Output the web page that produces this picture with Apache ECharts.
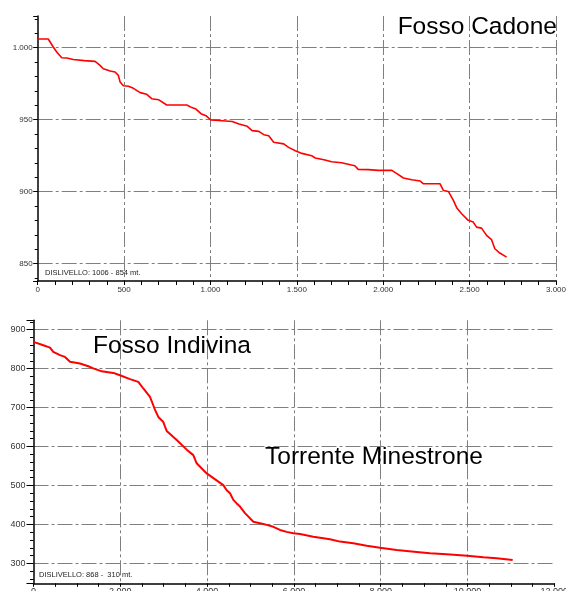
<!DOCTYPE html>
<html>
<head>
<meta charset="utf-8">
<script src="https://cdn.jsdelivr.net/npm/echarts@6/dist/echarts.min.js"></script>
<style>
html,body{margin:0;padding:0;background:#fff;}
#chart{width:566px;height:591px;}
</style>
</head>
<body>
<div id="chart"></div>
<script>
// Fosso Cadone profile (distance m, elevation m)
const cadoneDist = [0,61,71,90,110,139,168,206,270,332,361,380,419,448,467,477,496,525,554,593,631,660,699,747,863,892,916,945,974,1002,1069,1126,1165,1213,1241,1280,1309,1337,1366,1424,1452,1491,1529,1586,1606,1663,1701,1759,1816,1836,1855,1915,1970,2050,2079,2117,2165,2214,2233,2329,2348,2377,2406,2425,2454,2492,2521,2540,2569,2598,2627,2646,2675,2714];
const cadoneElev = [1006,1006,1005,1000.5,997,993,992.8,991.8,991,990.5,987.7,985.4,983.8,983.1,980.8,976.2,973.6,973.2,971.8,968.8,967.6,964.6,963.9,960.2,960.2,958.4,957.4,954.2,952.8,949.8,949.3,948.8,947,945.4,942.4,941.9,939.6,938.9,934.3,933.2,930.8,928.5,926.6,925,923.4,922,920.8,920.1,918.5,918,915.5,915.3,914.8,914.8,912.5,909.5,908.3,907.4,905.5,905.5,900.9,900.2,894,888.9,884.7,880.1,878.9,875.4,874.7,869.7,866.7,860.4,857.4,854.6];

// Fosso Indivina / Torrente Minestrone profile
const indivinaDist = [0,226,380,456,611,726,841,1071,1263,1378,1571,1839,1993,2224,2415,2530,2684,2760,2800,2876,2915,2991,3030,3069,3300,3530,3682,3760,3991,4259,4374,4451,4528,4604,4682,4758,4873,4912,5065,5104,5295,5373,5525,5680,5834,5986,6141,6447,6832,7062,7369,7677,7984,8368,8829,9136,9521,9995,10364,10673,11041];
const indivinaElev = [868.7,860,854,843,834.6,830,817.5,813,806,800.5,793,789,783,773,766,749,727.7,706,694,676,672,663,651,640,617,592,578,557,531,510,501,488,480,463,454,446,429,424,407,405,401,399,394,386,381,377.4,375.6,368.7,362,356,351.8,345.6,340.5,334.6,329.5,326,323.6,320,316,313.3,309];

const titleTop = 'Fosso Cadone';
const titleBottom1 = 'Fosso Indivina';
const titleBottom2 = 'Torrente Minestrone';
const noteTop = 'DISLIVELLO: 1006 - 854 mt.';
const noteBottom = 'DISLIVELLO: 868 -  310 mt.';

function zip(a, b) { return a.map((v, i) => [v, b[i]]); }
function fmt(v) { return String(v).replace(/\B(?=(\d{3})+(?!\d))/g, '.'); }

const FONT = '"Liberation Sans", Arial, sans-serif';
const gridLine = { show: true, lineStyle: { color: '#7f7f7f', width: 1, type: [15, 3, 3, 3] } };

const chart = echarts.init(document.getElementById('chart'), null, { renderer: 'canvas' });
chart.setOption({
  animation: false,
  backgroundColor: '#fff',
  grid: [
    { left: 37.7, top: 16, width: 518.3, height: 265, containLabel: false, outerBoundsMode: 'none' },
    { left: 33.5, top: 320.3, width: 520.8, height: 263, containLabel: false, outerBoundsMode: 'none' }
  ],
  xAxis: [
    {
      gridIndex: 0, type: 'value', min: 0, max: 3000, interval: 500,
      axisLine: { show: true, onZero: false, lineStyle: { color: '#000', width: 1.5 } },
      axisTick: { show: true, inside: false, length: 4, lineStyle: { color: '#000' } },
      minorTick: { show: true, splitNumber: 5, length: 4, lineStyle: { color: '#000' } },
      axisLabel: { show: true, formatter: fmt, fontSize: 8, color: '#333', fontFamily: FONT, margin: 5, interval: 0 },
      splitLine: Object.assign({ showMinLine: false, showMaxLine: true }, gridLine)
    },
    {
      gridIndex: 1, type: 'value', min: 0, max: 12000, interval: 2000,
      axisLine: { show: true, onZero: false, lineStyle: { color: '#000', width: 1.5 } },
      axisTick: { show: true, inside: false, length: 3.5, lineStyle: { color: '#000' } },
      minorTick: { show: true, splitNumber: 4, length: 3.5, lineStyle: { color: '#000' } },
      axisLabel: { show: true, formatter: fmt, fontSize: 9, color: '#333', fontFamily: FONT, margin: 4, interval: 0 },
      splitLine: Object.assign({ showMinLine: false, showMaxLine: false }, gridLine)
    }
  ],
  yAxis: [
    {
      gridIndex: 0, type: 'value', min: 838, max: 1022, splitNumber: 4,
      axisLine: { show: true, onZero: false, lineStyle: { color: '#000', width: 1.5 } },
      axisTick: { show: true, inside: false, length: 4.5, lineStyle: { color: '#000' } },
      minorTick: { show: true, splitNumber: 5, length: 3, lineStyle: { color: '#000' } },
      axisLabel: { show: true, formatter: fmt, fontSize: 8, color: '#333', fontFamily: FONT, margin: 5, showMinLabel: false, showMaxLabel: false },
      splitLine: Object.assign({ showMinLine: false, showMaxLine: false }, gridLine)
    },
    {
      gridIndex: 1, type: 'value', min: 249, max: 924, splitNumber: 6,
      axisLine: { show: true, onZero: false, lineStyle: { color: '#000', width: 1.5 } },
      axisTick: { show: true, inside: false, length: 7, lineStyle: { color: '#000' } },
      minorTick: { show: true, splitNumber: 5, length: 3.5, lineStyle: { color: '#000' } },
      axisLabel: { show: true, formatter: fmt, fontSize: 9, color: '#333', fontFamily: FONT, margin: 8, showMinLabel: false, showMaxLabel: false },
      splitLine: Object.assign({ showMinLine: false, showMaxLine: false }, gridLine)
    }
  ],
  series: [
    {
      type: 'line', xAxisIndex: 0, yAxisIndex: 0, data: zip(cadoneDist, cadoneElev),
      showSymbol: false, symbol: 'none', smooth: false,
      lineStyle: { color: '#ff0000', width: 1.6 }
    },
    {
      type: 'line', xAxisIndex: 1, yAxisIndex: 1, data: zip(indivinaDist, indivinaElev),
      showSymbol: false, symbol: 'none', smooth: false,
      lineStyle: { color: '#ff0000', width: 2 }
    }
  ],
  graphic: [
    { type: 'text', z: 100, style: { text: titleTop, x: 557, y: 27, align: 'right', verticalAlign: 'middle', font: '24.5px ' + FONT, fill: '#000' } },
    { type: 'text', z: 100, style: { text: titleBottom1, x: 93, y: 346.5, align: 'left', verticalAlign: 'middle', font: '24.5px ' + FONT, fill: '#000' } },
    { type: 'text', z: 100, style: { text: titleBottom2, x: 265, y: 457, align: 'left', verticalAlign: 'middle', font: '24.5px ' + FONT, fill: '#000' } },
    { type: 'text', z: 100, style: { text: noteTop, x: 45, y: 272.7, align: 'left', verticalAlign: 'middle', font: '7.5px ' + FONT, fill: '#222' } },
    { type: 'text', z: 100, style: { text: noteBottom, x: 39, y: 575, align: 'left', verticalAlign: 'middle', font: '7.5px ' + FONT, fill: '#222' } }
  ]
});
</script>
</body>
</html>
